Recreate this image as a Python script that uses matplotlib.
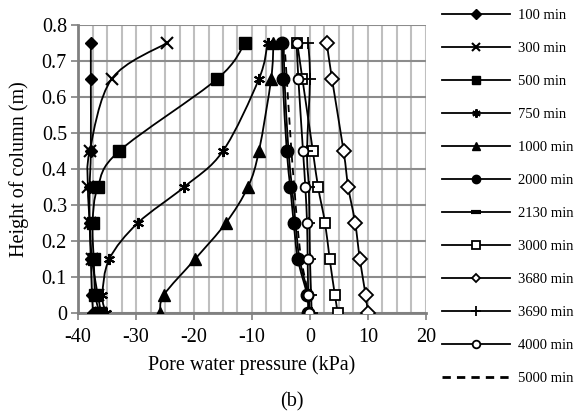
import numpy as np
import matplotlib
matplotlib.use("Agg")
import matplotlib.pyplot as plt
from matplotlib.path import Path
from matplotlib.patches import PathPatch
from matplotlib.lines import Line2D

plt.rcParams['font.family'] = ['Liberation Serif', 'DejaVu Serif']
plt.rcParams['axes.unicode_minus'] = False

# heights of the measuring points (m)
height = [0, 0.05, 0.15, 0.25, 0.35, 0.45, 0.65, 0.75]

# pore water pressure (kPa) at each height, per elapsed time
p_100 = [-37.4, -37.6, -37.8, -38.0, -38.0, -37.8, -37.8, -37.8]
p_300 = [-36.0, -36.6, -37.6, -38.0, -38.3, -38.0, -34.2, -24.7]
p_500 = [-36.3, -37.0, -37.3, -37.5, -36.6, -32.9, -16.0, -11.2]
p_750 = [-35.2, -35.8, -34.6, -29.7, -21.7, -15.0, -8.8, -7.3]
p_1000 = [-25.8, -25.2, -19.8, -14.5, -10.7, -8.8, -6.7, -6.3]
p_2000 = [-0.3, -0.5, -2.1, -2.8, -3.4, -4.0, -4.7, -4.8]
p_2130 = [-0.1, -0.3, -1.8, -2.5, -3.1, -3.7, -4.4, -4.5]
p_3000 = [4.8, 4.3, 3.4, 2.6, 1.4, 0.5, -1.3, -2.2]
p_3680 = [10.0, 9.6, 8.6, 7.8, 6.6, 5.8, 3.8, 2.9]
p_3690 = [0.3, 0.2, 0.0, -0.1, -0.2, -0.5, 0.0, -0.3]
p_4000 = [-0.2, -0.3, -0.4, -0.5, -0.8, -1.2, -2.0, -2.3]
p_5000 = [-0.1, -0.3, -1.5, -2.2, -2.7, -3.2, -4.0, -4.4]

labels = ['100 min', '300 min', '500 min', '750 min', '1000 min', '2000 min',
          '2130 min', '3000 min', '3680 min', '3690 min', '4000 min', '5000 min']
series = [p_100, p_300, p_500, p_750, p_1000, p_2000,
          p_2130, p_3000, p_3680, p_3690, p_4000, p_5000]

# marker style per series: (marker, size, face, edge width, legend size)
styles = [
    ('D', 6, 'k', 1.0, 5),
    ('x', 8, 'k', 1.5, 6),
    ('s', 8, 'k', 1.0, 6),
    ((6, 2, 0), 8, 'k', 1.5, 6),
    ('^', 8, 'k', 1.0, 6),
    ('o', 9, 'k', 1.0, 6),
    ('_', 7, 'k', 3.0, 7),
    ('s', 7, 'white', 1.3, 6),
    ('D', 7, 'white', 1.3, 4.5),
    ('+', 8, 'k', 1.3, 7),
    ('o', 7, 'white', 1.3, 5.5),
    (None, 0, 'k', 1.0, 0),
]


def smooth_path(xs, ys):
    # Catmull-Rom style bezier through the points (like Excel smoothed lines)
    pts = np.column_stack([xs, ys])
    n = len(pts)
    verts = [pts[0]]
    codes = [Path.MOVETO]
    for i in range(n - 1):
        p0 = pts[i - 1] if i > 0 else pts[i]
        p1 = pts[i]
        p2 = pts[i + 1]
        p3 = pts[i + 2] if i + 2 < n else pts[i + 1]
        c1 = p1 + (p2 - p0) / 6.0
        c2 = p2 - (p3 - p1) / 6.0
        verts += [c1, c2, p2]
        codes += [Path.CURVE4] * 3
    return Path(verts, codes)


fig = plt.figure(figsize=(5.74, 4.16), dpi=100)
ax = fig.add_axes([0.136, 0.2476, 0.606, 0.6924])

handles = []
for vals, lab, st in zip(series, labels, styles):
    mk, ms, fc, mew, lms = st
    patch = PathPatch(smooth_path(vals, height), fill=False, ec='k', lw=1.3,
                      ls=(0, (4, 3)) if mk is None else '-', zorder=3)
    ax.add_patch(patch)
    if mk is not None:
        ax.plot(vals, height, ls='none', marker=mk, ms=ms, mfc=fc, mec='k',
                mew=mew, zorder=4)
        handles.append(Line2D([], [], color='k', lw=1.3, marker=mk, ms=lms,
                              mfc=fc, mec='k', mew=mew, label=lab))
    else:
        handles.append(Line2D([], [], color='k', lw=2.0, ls=(0, (3, 2.2)),
                              label=lab))

ax.set_xlim(-40, 20)
ax.set_ylim(0, 0.8)
ax.set_xticks(np.arange(-40, 21, 10))
ax.set_xticks(np.arange(-40, 21, 2.5), minor=True)
ax.set_yticks(np.arange(0, 0.81, 0.1))
ax.set_yticklabels(['0', '0.1', '0.2', '0.3', '0.4', '0.5', '0.6', '0.7', '0.8'])

ax.grid(True, axis='x', which='both', color='#bfbfbf', lw=1.5, zorder=0)
ax.grid(True, axis='y', which='major', color='#8c8c8c', lw=1.5, zorder=0)
ax.set_axisbelow(True)

for s in ['top', 'right']:
    ax.spines[s].set_visible(False)
for s in ['left', 'bottom']:
    ax.spines[s].set_color('#808080')
    ax.spines[s].set_linewidth(2)

ax.tick_params(axis='both', which='major', direction='out', length=5,
               color='#808080', width=1.2, labelsize=14.5, pad=3)
ax.tick_params(axis='x', which='major', pad=6)
ax.tick_params(axis='x', which='minor', length=0)

ax.set_xlabel('Pore water pressure (kPa)', fontsize=14.5, labelpad=6)
ax.set_ylabel('Height of column (m)', fontsize=14.5, labelpad=9)

fig.text(0.509, 0.033, '(b)', ha='center', va='center', fontsize=14.5)

fig.legend(handles=handles, loc='upper left', bbox_to_anchor=(0.762, 0.99),
           frameon=False, fontsize=10.5, handlelength=4.7, handletextpad=0.5,
           labelspacing=1.36, borderpad=0.3, borderaxespad=0)

fig.savefig('out.png', dpi=100)
